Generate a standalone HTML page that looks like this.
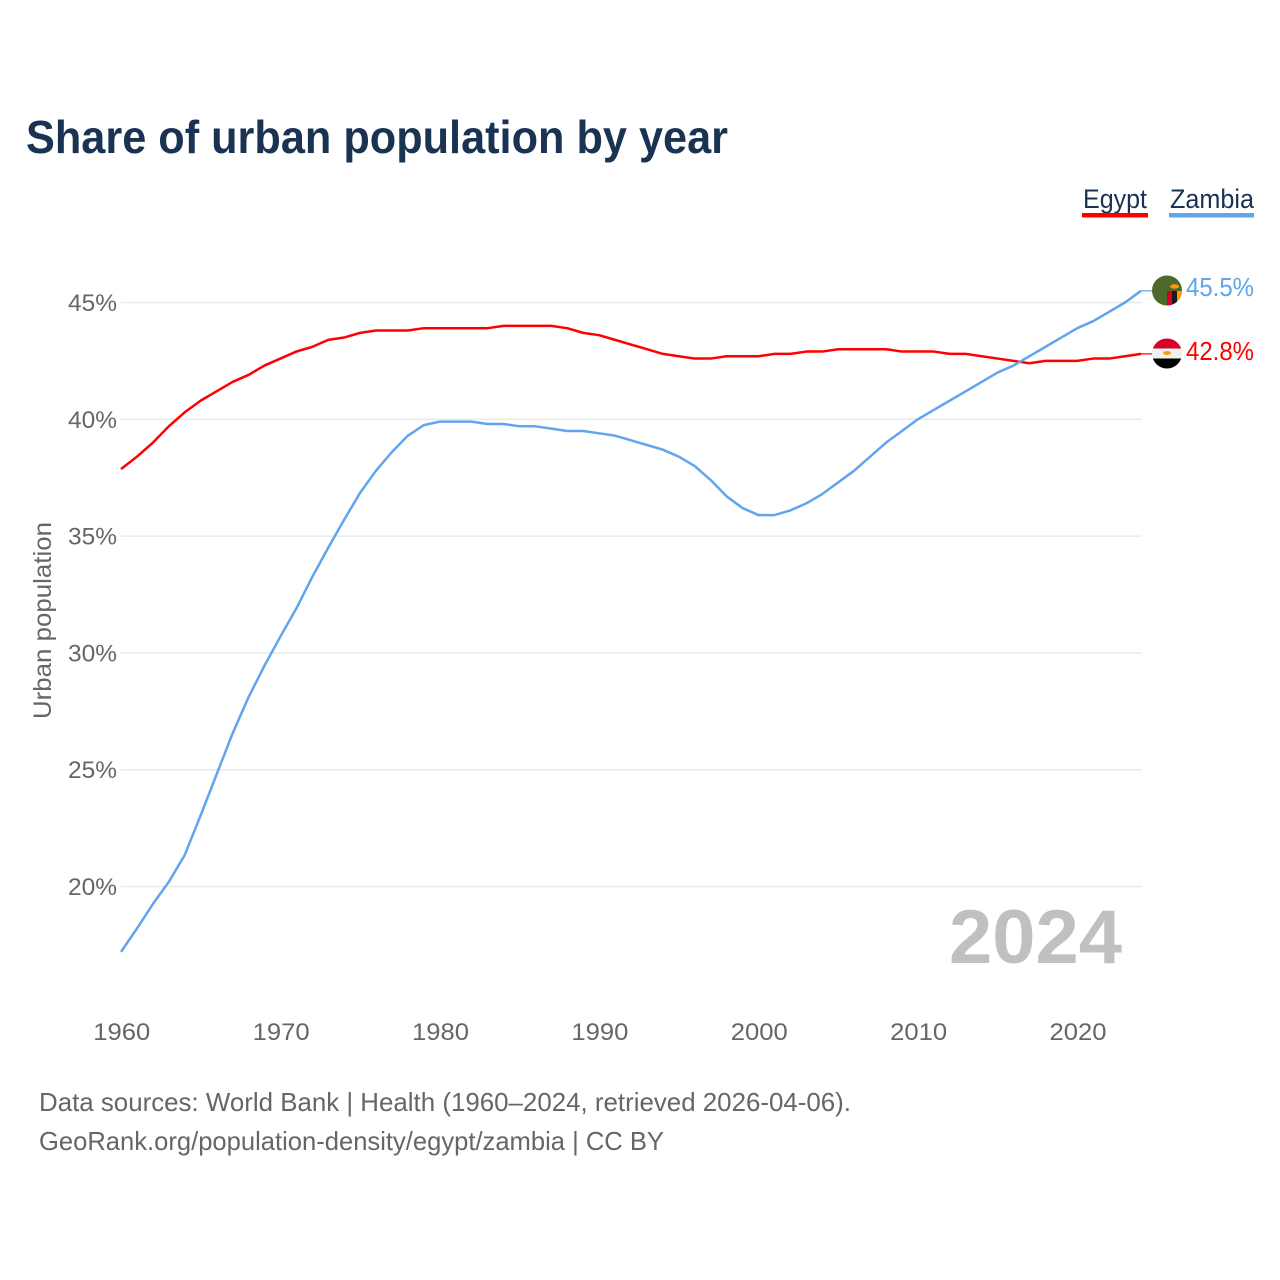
<!DOCTYPE html>
<html lang="en">
<head>
<meta charset="utf-8">
<title>Share of urban population by year</title>
<style>
html,body{margin:0;padding:0;background:#fff;width:1280px;height:1280px;overflow:hidden}
svg{display:block}
text{font-family:"Liberation Sans",sans-serif}
</style>
</head>
<body>
<svg id="chart" xmlns="http://www.w3.org/2000/svg" width="1280" height="1280" viewBox="0 0 1280 1280">
  <defs>
    <clipPath id="clip-zambia"><circle cx="1167" cy="290.5" r="15"/></clipPath>
    <clipPath id="clip-egypt"><circle cx="1167" cy="353.5" r="15"/></clipPath>
  </defs>
  <text x="26" y="153" font-size="46" font-weight="700" fill="#1a3353" textLength="702" lengthAdjust="spacingAndGlyphs">Share of urban population by year</text>

  <g>
    <g>
      <text x="1083" y="208" font-size="27" fill="#1a3353" textLength="64" lengthAdjust="spacingAndGlyphs">Egypt</text>
      <rect x="1082" y="213" width="66" height="4.5" fill="#ff0000"/>
    </g>
    <g>
      <text x="1170" y="208" font-size="27" fill="#1a3353" textLength="84" lengthAdjust="spacingAndGlyphs">Zambia</text>
      <rect x="1169" y="213" width="85" height="4.5" fill="#60a5ee"/>
    </g>
  </g>

  <g id="grid"></g>
  <g id="yticks"></g>
  <g id="xticks"></g>

  <text transform="translate(51,719) rotate(-90)" font-size="25" fill="#666666" textLength="197" lengthAdjust="spacingAndGlyphs">Urban population</text>

  <text x="949" y="963" font-size="76" font-weight="700" fill="#c0c0c0" textLength="173" lengthAdjust="spacingAndGlyphs">2024</text>

  <g id="series"></g>

  <g clip-path="url(#clip-zambia)">
    <rect x="1152" y="275.5" width="30" height="30" fill="#4c6b2b"/>
    <rect x="1167" y="291" width="5" height="15" fill="#d80027"/>
    <rect x="1172" y="291" width="5" height="15" fill="#1a1a1a"/>
    <rect x="1177" y="291" width="5" height="15" fill="#ff9811"/>
    <ellipse cx="1174.5" cy="286.5" rx="4.5" ry="2.2" fill="#ff9811"/>
  </g>
  <g clip-path="url(#clip-egypt)">
    <rect x="1152" y="338.5" width="30" height="10" fill="#d80027"/>
    <rect x="1152" y="348.5" width="30" height="10" fill="#f0f0f0"/>
    <rect x="1152" y="358.5" width="30" height="10" fill="#000000"/>
    <ellipse cx="1167" cy="353" rx="4" ry="2" fill="#ff9811"/>
  </g>

  <text x="1186" y="296" font-size="26" fill="#60a5ee" textLength="68" lengthAdjust="spacingAndGlyphs">45.5%</text>
  <text x="1186" y="360" font-size="26" fill="#ff0000" textLength="68" lengthAdjust="spacingAndGlyphs">42.8%</text>

  <g>
    <text x="39" y="1111" font-size="26" fill="#666666" textLength="812" lengthAdjust="spacingAndGlyphs">Data sources: World Bank | Health (1960–2024, retrieved 2026-04-06).</text>
    <text x="39" y="1150" font-size="26" fill="#666666" textLength="625" lengthAdjust="spacingAndGlyphs">GeoRank.org/population-density/egypt/zambia | CC BY</text>
  </g>
</svg>
<script>
const startYear = 1960;
const endYear = 2024;
const xTickYears = [1960, 1970, 1980, 1990, 2000, 2010, 2020];
const yTickValues = [20, 25, 30, 35, 40, 45];
const egyptValues = [37.87,38.4,39.0,39.7,40.3,40.8,41.2,41.6,41.9,42.3,42.6,42.9,43.1,43.4,43.5,43.7,43.8,43.8,43.8,43.9,43.9,43.9,43.9,43.9,44.0,44.0,44.0,44.0,43.9,43.7,43.6,43.4,43.2,43.0,42.8,42.7,42.6,42.6,42.7,42.7,42.7,42.8,42.8,42.9,42.9,43.0,43.0,43.0,43.0,42.9,42.9,42.9,42.8,42.8,42.7,42.6,42.5,42.4,42.5,42.5,42.5,42.6,42.6,42.7,42.8];
const zambiaValues = [17.2,18.2,19.25,20.2,21.35,23.05,24.8,26.55,28.1,29.45,30.7,31.9,33.25,34.5,35.7,36.85,37.8,38.6,39.3,39.75,39.9,39.9,39.9,39.8,39.8,39.7,39.7,39.6,39.5,39.5,39.4,39.3,39.1,38.9,38.7,38.4,38.0,37.4,36.7,36.2,35.9,35.9,36.1,36.4,36.8,37.3,37.8,38.4,39.0,39.5,40.0,40.4,40.8,41.2,41.6,42.0,42.3,42.7,43.1,43.5,43.9,44.2,44.6,45.0,45.5];

const SVG_NS = 'http://www.w3.org/2000/svg';
function xScale(year) { return 121 + (year - startYear) * (1141 - 121) / (endYear - startYear); }
function yScale(value) { return 302.5 + (45 - value) * 23.36; }
function make(tag, attrs) {
  const el = document.createElementNS(SVG_NS, tag);
  Object.keys(attrs).forEach(function (k) { el.setAttribute(k, attrs[k]); });
  return el;
}
const grid = document.getElementById('grid');
const yticks = document.getElementById('yticks');
const xticks = document.getElementById('xticks');
const series = document.getElementById('series');

yTickValues.forEach(function (v) {
  const line = make('line', { x1: 121, x2: 1141.5, y1: yScale(v), y2: yScale(v), stroke: '#e9e9e9', 'stroke-width': 1.5 });
  
  
  grid.appendChild(line);
  const label = make('text', { x: 117, y: yScale(v) + 8.5, 'text-anchor': 'end', 'font-size': 24, fill: '#666666', textLength: 49, lengthAdjust: 'spacingAndGlyphs' });
  
  
  label.textContent = v + '%';
  yticks.appendChild(label);
});

xTickYears.forEach(function (year) {
  const label = make('text', { x: xScale(year) + 0.8, y: 1040, 'text-anchor': 'middle', 'font-size': 24, fill: '#666666', textLength: 57, lengthAdjust: 'spacingAndGlyphs' });
  
  
  label.textContent = year;
  xticks.appendChild(label);
});

function buildPoints(values) {
  return values.map(function (v, i) { return xScale(startYear + i).toFixed(2) + ',' + yScale(v).toFixed(2); }).join(' ');
}

const egyptLine = make('polyline', { points: buildPoints(egyptValues), fill: 'none', stroke: '#ff0000', 'stroke-width': 2.5, 'stroke-linejoin': 'round' });


series.appendChild(egyptLine);

const zambiaLine = make('polyline', { points: buildPoints(zambiaValues), fill: 'none', stroke: '#60a5ee', 'stroke-width': 2.5, 'stroke-linejoin': 'round' });


series.appendChild(zambiaLine);

const egyptLast = egyptValues[egyptValues.length - 1];
const egyptStub = make('line', { x1: xScale(endYear), x2: 1152, y1: yScale(egyptLast), y2: yScale(egyptLast), stroke: '#ff0000', 'stroke-width': 1.2 });


series.appendChild(egyptStub);

const zambiaLast = zambiaValues[zambiaValues.length - 1];
const zambiaStub = make('line', { x1: xScale(endYear), x2: 1152, y1: yScale(zambiaLast), y2: yScale(zambiaLast), stroke: '#60a5ee', 'stroke-width': 1.2 });


series.appendChild(zambiaStub);
</script>
</body>
</html>
